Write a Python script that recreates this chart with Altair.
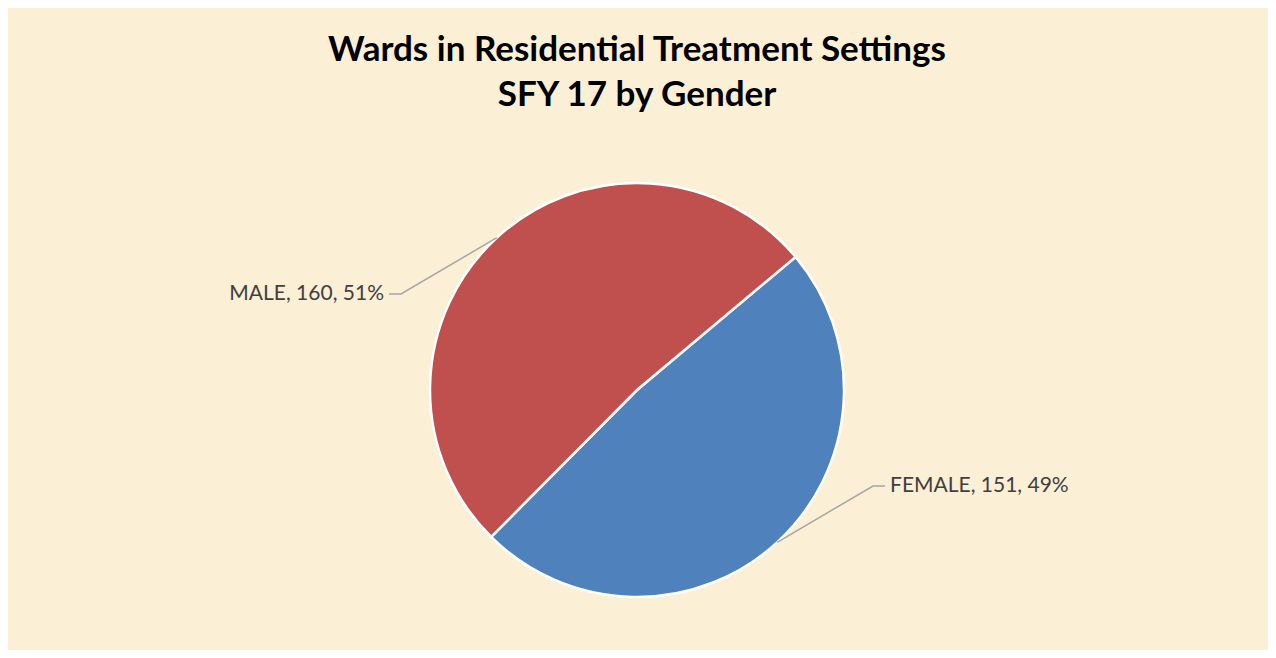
import altair as alt
import pandas as pd
import numpy as np

# ---- data ----
categories = ["FEMALE", "MALE"]
values = [151, 160]
colors = ["#4F81BD", "#C0504D"]
title_lines = ["Wards in Residential Treatment Settings", "SFY 17 by Gender"]

# ---- layout ----
W, H = 1260, 642
CX, CY, R = 629, 382, 207
START_DEG = 50
ELBOW_DX, ELBOW_DY, TAIL, GAP = 236, 96, 12, 5

total = sum(values)
pcts = [round(v / total * 100) for v in values]
labels = [f"{c}, {v}, {p}%" for c, v, p in zip(categories, values, pcts)]

start = np.deg2rad(START_DEG)
cum = np.cumsum([0] + values)
mids = start + 2 * np.pi * (cum[:-1] + np.array(values) / 2) / total
sx = np.sign(np.sin(mids))
sy = np.sign(-np.cos(mids))

pie_df = pd.DataFrame({"category": categories, "value": values, "order": range(len(values))})

line_rows, text_rows = [], []
for i, cat in enumerate(categories):
    ax = CX + R * np.sin(mids[i])
    ay = CY - R * np.cos(mids[i])
    ex = CX + sx[i] * ELBOW_DX
    ey = CY + sy[i] * ELBOW_DY
    tx = ex + sx[i] * TAIL
    line_rows += [
        {"cat": cat, "k": 0, "px": ax, "py": ay},
        {"cat": cat, "k": 1, "px": ex, "py": ey},
        {"cat": cat, "k": 2, "px": tx, "py": ey},
    ]
    text_rows.append({"cat": cat, "label": labels[i], "px": tx + sx[i] * GAP, "py": ey,
                      "side": "left" if sx[i] > 0 else "right"})
line_df = pd.DataFrame(line_rows)
text_df = pd.DataFrame(text_rows)
title_df = pd.DataFrame({"line": title_lines, "py": [53, 98]})

pie = alt.Chart(pie_df).mark_arc(outerRadius=R, stroke="white", strokeWidth=2.5).encode(
    theta=alt.Theta("value:Q", stack=True,
                    scale=alt.Scale(range=[float(start), float(start + 2 * np.pi)])),
    color=alt.Color("category:N", scale=alt.Scale(domain=categories, range=colors), legend=None),
    order=alt.Order("order:Q"),
    x=alt.value(CX),
    y=alt.value(CY),
)

leaders = alt.Chart(line_df).mark_line(color="#A6A6A6", strokeWidth=1.5).encode(
    x=alt.X("px:Q", scale=None, axis=None),
    y=alt.Y("py:Q", scale=None, axis=None),
    detail="cat:N",
    order="k:Q",
)

lab_right = alt.Chart(text_df[text_df.side == "right"]).mark_text(
    align="right", baseline="middle", font="Lato", fontSize=21, color="#404040"
).encode(x=alt.X("px:Q", scale=None, axis=None), y=alt.Y("py:Q", scale=None, axis=None), text="label:N")

lab_left = alt.Chart(text_df[text_df.side == "left"]).mark_text(
    align="left", baseline="middle", font="Lato", fontSize=21, color="#404040"
).encode(x=alt.X("px:Q", scale=None, axis=None), y=alt.Y("py:Q", scale=None, axis=None), text="label:N")

title = alt.Chart(title_df).mark_text(
    align="center", baseline="alphabetic", font="Lato", fontWeight="bold", fontSize=35, color="#000000"
).encode(x=alt.value(CX), y=alt.Y("py:Q", scale=None, axis=None), text="line:N")

chart = alt.layer(pie, leaders, lab_right, lab_left, title).properties(
    width=W, height=H, padding=0, background="#FBEFD5"
).configure_view(stroke=None)

chart.save("out.html", embed_options={"renderer": "svg", "actions": False})
